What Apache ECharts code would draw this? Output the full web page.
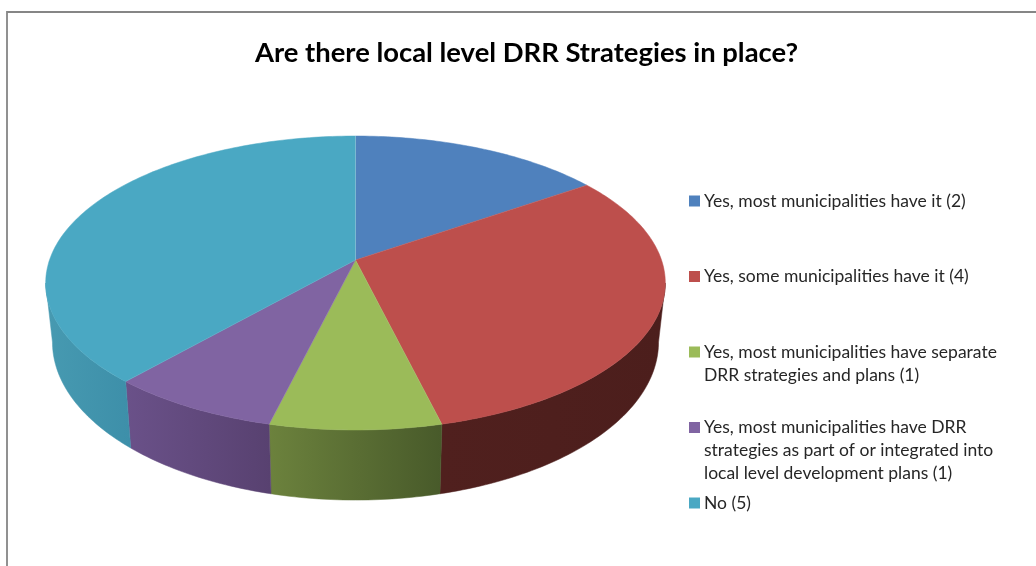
<!DOCTYPE html>
<html>
<head>
<meta charset="utf-8">
<style>html,body{margin:0;padding:0;background:#fff}#chart{width:1036px;height:566px}</style>
<script src="https://cdn.jsdelivr.net/npm/echarts@6/dist/echarts.min.js"></script>
</head>
<body>
<div id="chart"></div>
<script>
// Responses per answer, clockwise from twelve o'clock.
const categories = [
  ['Yes, most municipalities have it (2)'],
  ['Yes, some municipalities have it (4)'],
  ['Yes, most municipalities have separate', 'DRR strategies and plans (1)'],
  ['Yes, most municipalities have DRR', 'strategies as part of or integrated into', 'local level development plans (1)'],
  ['No (5)']
];
const values = [2, 4, 1, 1, 5];
const topColors = ['#4f81bd', '#bd4f4c', '#9bbb59', '#8064a2', '#4aa8c3'];
const sideStops = [
  ['#3a5f8c', '#3a5f8c'],
  ['#50201e', '#4c1e1c'],
  ['#6c823d', '#485a2a'],
  ['#6a5189', '#584170'],
  ['#479ab1', '#3d8fa9']
];
const titleText = 'Are there local level DRR Strategies in place?';

// Projection of the tilted disc: a unit circle seen in perspective.
const CX = 355.5;
const TILT = 0.1565;
const TOP_FACE = { a: 260, b: -102.7, d: 306 };
const BASE_FACE = { a: 317.4, b: -104.4, d: 299.3 };
// Only the near part of the rim is visible; it ends where the outline turns back.
const RIM_LIMIT = Math.acos(-TILT) * 180 / Math.PI;

function project(face, deg) {
  const t = deg * Math.PI / 180;
  const u = Math.sin(t), v = Math.cos(t), w = 1 + TILT * v;
  return [CX + face.d * u / w, (face.a + face.b * v) / w];
}

function arc(face, from, to) {
  const pts = [];
  const n = Math.max(2, Math.ceil(to - from));
  for (let i = 0; i <= n; i++) pts.push(project(face, from + (to - from) * i / n));
  return pts;
}

const total = values.reduce((s, x) => s + x, 0);
function sliceAngles(i) {
  const before = values.slice(0, i).reduce((s, x) => s + x, 0);
  return [before / total * 360, (before + values[i]) / total * 360];
}

function renderSide(params) {
  const i = params.dataIndex;
  const angles = sliceAngles(i);
  const from = Math.max(angles[0], RIM_LIMIT);
  const to = Math.min(angles[1], 360 - RIM_LIMIT);
  if (to <= from) return null;
  const upper = arc(TOP_FACE, from, to);
  const lower = arc(BASE_FACE, from, to).reverse();
  const xs = upper.concat(lower).map(p => p[0]);
  const fill = new echarts.graphic.LinearGradient(
    Math.min(...xs), 0, Math.max(...xs), 0,
    [{ offset: 0, color: sideStops[i][0] }, { offset: 1, color: sideStops[i][1] }],
    true
  );
  return {
    type: 'polygon',
    shape: { points: upper.concat(lower) },
    style: { fill: fill, stroke: fill, lineWidth: 0.5 }
  };
}

function renderTop(params) {
  const i = params.dataIndex;
  const angles = sliceAngles(i);
  const centre = [CX, TOP_FACE.a];
  const edge = project(TOP_FACE, angles[0]);
  return {
    type: 'group',
    children: [
      {
        type: 'polygon',
        shape: { points: [centre].concat(arc(TOP_FACE, angles[0], angles[1])) },
        style: { fill: topColors[i], stroke: topColors[i], lineWidth: 0.5 }
      },
      {
        type: 'line',
        z2: 5,
        shape: { x1: centre[0], y1: centre[1], x2: edge[0], y2: edge[1] },
        style: { stroke: i === 0 ? 'rgba(255,255,255,0.22)' : 'rgba(255,255,255,0.06)', lineWidth: 1 }
      }
    ]
  };
}

// Legend rows share one pitch measured from each entry's first line.
const LEGEND_X = 689, LEGEND_TEXT_X = 704, LEGEND_TOP = 201, LEGEND_PITCH = 75.5, LINE_HEIGHT = 23;
const legendGraphics = [];
categories.forEach((lines, i) => {
  const y = LEGEND_TOP + i * LEGEND_PITCH;
  legendGraphics.push({
    type: 'rect', shape: { x: LEGEND_X, y: y - 5.5, width: 11, height: 11 },
    style: { fill: topColors[i] }, silent: true
  });
  lines.forEach((line, j) => {
    legendGraphics.push({
      type: 'text', x: LEGEND_TEXT_X, y: y + j * LINE_HEIGHT, silent: true,
      style: { text: line, fill: '#262626', font: '17.5px Lato', textAlign: 'left', textVerticalAlign: 'middle' }
    });
  });
});

const frame = {
  type: 'polyline', silent: true,
  shape: { points: [[7, 566], [7, 12], [1036, 12]] },
  style: { fill: 'none', stroke: '#868686', lineWidth: 1.8 }
};

const chart = echarts.init(document.getElementById('chart'), null, { renderer: 'canvas' });
chart.setOption({
  animation: false,
  backgroundColor: '#ffffff',
  title: {
    text: titleText, left: 521.5, top: 35, textAlign: 'center',
    textStyle: { fontFamily: 'Lato', fontWeight: 'bold', fontSize: 27.4, color: '#000000' }
  },
  graphic: { elements: [frame].concat(legendGraphics) },
  series: [
    { type: 'custom', coordinateSystem: 'none', renderItem: renderSide, data: values, z: 1, silent: true },
    { type: 'custom', coordinateSystem: 'none', renderItem: renderTop, data: values, z: 2, silent: true }
  ]
});
</script>
</body>
</html>
